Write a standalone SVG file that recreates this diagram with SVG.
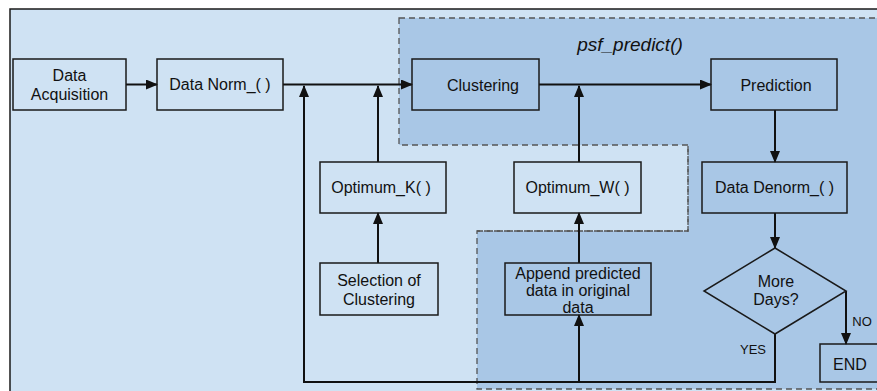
<svg xmlns="http://www.w3.org/2000/svg" width="877" height="391" viewBox="0 0 877 391">
<defs>
<style>
.bx{fill:none;stroke:#1a1a1a;stroke-width:1.5}
.t{font-family:"Liberation Sans",Arial,sans-serif;font-size:16px;fill:#111;text-anchor:middle}
.s{font-family:"Liberation Sans",Arial,sans-serif;font-size:13px;fill:#111;text-anchor:middle}
.ln{fill:none;stroke:#111;stroke-width:2}
.ds{stroke:#555;stroke-width:1.3;stroke-dasharray:6,4}
</style>
<marker id="ah" markerWidth="12" markerHeight="10" refX="11" refY="5" orient="auto" markerUnits="userSpaceOnUse">
<path d="M0,0 L12,5 L0,10 Z" fill="#111"/>
</marker>
</defs>
<rect width="877" height="391" fill="#ffffff"/>
<rect x="10" y="9" width="880" height="395" fill="#cfe2f3" stroke="#1a1a1a" stroke-width="1.5"/>
<g id="regions">
<path d="M399,18 H890 V389 H477 V231 H688 V145 H399 Z" fill="#a9c7e6" class="ds"/>
<path d="M477,231 H688 V145" fill="none" class="ds"/>
</g>
<text x="630" y="51" font-family="Liberation Sans, Arial, sans-serif" font-size="19" font-style="italic" fill="#111" text-anchor="middle">psf_predict()</text>
<g id="connectors">
<line class="ln" x1="126" y1="84.5" x2="157" y2="84.5" marker-end="url(#ah)"/>
<line class="ln" x1="283" y1="84.5" x2="412" y2="84.5" marker-end="url(#ah)"/>
<line class="ln" x1="539" y1="84.5" x2="711" y2="84.5" marker-end="url(#ah)"/>
<line class="ln" x1="378" y1="162" x2="378" y2="86" marker-end="url(#ah)"/>
<line class="ln" x1="378" y1="263" x2="378" y2="213" marker-end="url(#ah)"/>
<line class="ln" x1="579" y1="162" x2="579" y2="86" marker-end="url(#ah)"/>
<line class="ln" x1="579" y1="263" x2="579" y2="213" marker-end="url(#ah)"/>
<line class="ln" x1="579" y1="382" x2="579" y2="315" marker-end="url(#ah)"/>
<line class="ln" x1="775" y1="110" x2="775" y2="162" marker-end="url(#ah)"/>
<line class="ln" x1="775" y1="213" x2="775" y2="248" marker-end="url(#ah)"/>
<polyline class="ln" points="775,334 775,382 304,382 304,86" marker-end="url(#ah)"/>
<polyline class="ln" points="846,291 846,344" marker-end="url(#ah)"/>
<text class="s" x="753" y="354">YES</text>
<text class="s" x="862" y="326">NO</text>
</g>
<g id="data-acquisition">
<rect class="bx" x="13" y="59" width="113" height="51" fill="#cfe2f3"/>
<text class="t" x="69.5" y="81">Data</text>
<text class="t" x="69.5" y="100">Acquisition</text>
</g>
<g id="data-norm">
<rect class="bx" x="157" y="59" width="126" height="51"/>
<text class="t" x="220" y="90">Data Norm_( )</text>
</g>
<g id="clustering">
<rect class="bx" x="412" y="59" width="127" height="51"/>
<text class="t" x="483" y="91">Clustering</text>
</g>
<g id="prediction">
<rect class="bx" x="711" y="59" width="126" height="51"/>
<text class="t" x="776" y="91">Prediction</text>
</g>
<g id="optimum-k">
<rect class="bx" x="320" y="162" width="126" height="51"/>
<text class="t" x="381" y="193">Optimum_K( )</text>
</g>
<g id="optimum-w">
<rect class="bx" x="514" y="162" width="127" height="51"/>
<text class="t" x="577.5" y="193">Optimum_W( )</text>
</g>
<g id="data-denorm">
<rect class="bx" x="702" y="162" width="145" height="51"/>
<text class="t" x="774.5" y="193">Data Denorm_( )</text>
</g>
<g id="selection">
<rect class="bx" x="320" y="263" width="118" height="52"/>
<text class="t" x="379" y="286">Selection of</text>
<text class="t" x="379" y="305">Clustering</text>
</g>
<g id="append">
<rect class="bx" x="505" y="263" width="146" height="52"/>
<text class="t" x="578" y="279">Append predicted</text>
<text class="t" x="578" y="296">data in original</text>
<text class="t" x="578" y="313">data</text>
</g>
<g id="more-days">
<polygon class="bx" points="775,248 846,291 775,334 704,291"/>
<text class="t" x="776" y="287">More</text>
<text class="t" x="776" y="305">Days?</text>
</g>
<g id="end">
<rect class="bx" x="820" y="344" width="70" height="38"/>
<text class="t" x="850" y="370">END</text>
</g>
</svg>
